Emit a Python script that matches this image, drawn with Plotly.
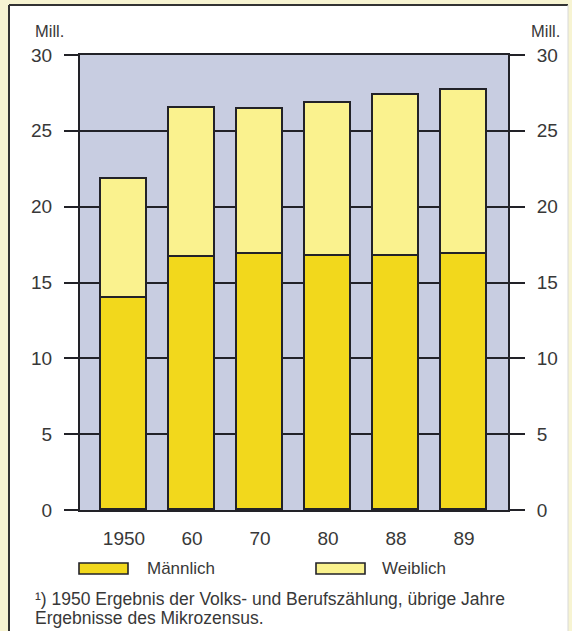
import plotly.graph_objects as go

# ---- data ----
years = ["1950", "60", "70", "80", "88", "89"]
maennlich = [14.0, 16.65, 16.9, 16.75, 16.75, 16.9]
weiblich = [7.8, 9.85, 9.55, 10.1, 10.6, 10.8]
y_ticks = [0, 5, 10, 15, 20, 25, 30]

# ---- style ----
W, H = 572, 631
ML, MR, MT, MB = 80, 64, 55, 121
PW, PH = W - ML - MR, H - MT - MB
C_M = "#f2d81c"
C_W = "#faf28e"
C_BG = "#c8cde1"
C_LINE = "#222228"
C_TXT = "#383838"
C_CREAM = "#f7f4d2"
FONT = "Liberation Sans, Arial, sans-serif"


def px(x):
    return (x - ML) / PW


def py(y):
    return (H - MB - y) / PH


xpos = list(range(len(years)))

fig = go.Figure()
fig.add_trace(go.Bar(x=xpos, y=maennlich, name="Männlich", marker=dict(color=C_M, line=dict(color=C_LINE, width=1.6)),
                     width=0.69, showlegend=False))
fig.add_trace(go.Bar(x=xpos, y=weiblich, name="Weiblich", marker=dict(color=C_W, line=dict(color=C_LINE, width=1.6)),
                     width=0.69, showlegend=False))
# invisible trace for right axis
fig.add_trace(go.Scatter(x=[xpos[0]], y=[0], yaxis="y2", mode="markers", marker=dict(opacity=0), showlegend=False,
                         hoverinfo="skip"))

shapes = [
    # cream strips outside border
    dict(type="rect", xref="paper", yref="paper", x0=px(0), x1=px(9), y0=py(H), y1=py(0), fillcolor=C_CREAM,
         line=dict(width=0), layer="below"),
    dict(type="rect", xref="paper", yref="paper", x0=px(0), x1=px(W), y0=py(5), y1=py(0), fillcolor=C_CREAM,
         line=dict(width=0), layer="below"),
    dict(type="rect", xref="paper", yref="paper", x0=px(568), x1=px(W), y0=py(H), y1=py(0), fillcolor=C_CREAM,
         line=dict(width=0), layer="below"),
    # border lines
    dict(type="line", xref="paper", yref="paper", x0=px(9), x1=px(568), y0=py(5), y1=py(5),
         line=dict(color="#333333", width=2)),
    dict(type="line", xref="paper", yref="paper", x0=px(9), x1=px(9), y0=py(5), y1=py(H + 2),
         line=dict(color="#333333", width=2)),
    dict(type="line", xref="paper", yref="paper", x0=px(568), x1=px(568), y0=py(5), y1=py(H + 2),
         line=dict(color="#d8d8d8", width=1)),
    # legend swatches
    dict(type="rect", xref="paper", yref="paper", x0=px(79), x1=px(128), y0=py(574), y1=py(563),
         fillcolor=C_M, line=dict(color=C_LINE, width=1.6)),
    dict(type="rect", xref="paper", yref="paper", x0=px(316), x1=px(365), y0=py(574), y1=py(563),
         fillcolor=C_W, line=dict(color=C_LINE, width=1.6)),
]

annotations = [
    dict(text="Mill.", xref="paper", yref="paper", x=px(33), y=py(31), xanchor="left", yanchor="middle",
         showarrow=False, font=dict(size=16.5, color=C_TXT, family=FONT)),
    dict(text="Mill.", xref="paper", yref="paper", x=px(529), y=py(31), xanchor="left", yanchor="middle",
         showarrow=False, font=dict(size=16.5, color=C_TXT, family=FONT)),
    dict(text="Männlich", xref="paper", yref="paper", x=px(145), y=py(568), xanchor="left", yanchor="middle",
         showarrow=False, font=dict(size=17, color=C_TXT, family=FONT)),
    dict(text="Weiblich", xref="paper", yref="paper", x=px(380), y=py(568), xanchor="left", yanchor="middle",
         showarrow=False, font=dict(size=17, color=C_TXT, family=FONT)),
    dict(text="¹) 1950 Ergebnis der Volks- und Berufszählung, übrige Jahre", xref="paper", yref="paper",
         x=px(33), y=py(599), xanchor="left", yanchor="middle", showarrow=False,
         font=dict(size=17.5, color=C_TXT, family=FONT)),
    dict(text="Ergebnisse des Mikrozensus.", xref="paper", yref="paper",
         x=px(33), y=py(618), xanchor="left", yanchor="middle", showarrow=False,
         font=dict(size=17.5, color=C_TXT, family=FONT)),
]

fig.update_layout(
    width=W, height=H,
    margin=dict(l=ML, r=MR, t=MT, b=MB, pad=0),
    paper_bgcolor="white",
    plot_bgcolor=C_BG,
    barmode="stack",
    bargap=0,
    font=dict(family=FONT, color=C_TXT),
    xaxis=dict(range=[-0.647, 5.647], tickvals=xpos, ticktext=years, showgrid=False, zeroline=False,
               showline=True, mirror=True, linecolor=C_LINE, linewidth=2,
               ticks="outside", ticklen=10, tickcolor="rgba(0,0,0,0)",
               tickfont=dict(size=19, color=C_TXT, family=FONT), fixedrange=True),
    yaxis=dict(range=[0, 30], tickvals=y_ticks, showgrid=True, gridcolor=C_LINE, gridwidth=2,
               zeroline=False, showline=True, linecolor=C_LINE, linewidth=2,
               ticks="outside", ticklen=14, tickwidth=2, tickcolor=C_LINE, ticklabelstandoff=8,
               tickfont=dict(size=19, color=C_TXT, family=FONT)),
    yaxis2=dict(range=[0, 30], tickvals=y_ticks, overlaying="y", side="right", showgrid=False,
                zeroline=False, showline=True, linecolor=C_LINE, linewidth=2,
                ticks="outside", ticklen=15, tickwidth=2, tickcolor=C_LINE, ticklabelstandoff=8,
                tickfont=dict(size=19, color=C_TXT, family=FONT)),
    shapes=shapes,
    annotations=annotations,
)

fig.write_html("out.html")
